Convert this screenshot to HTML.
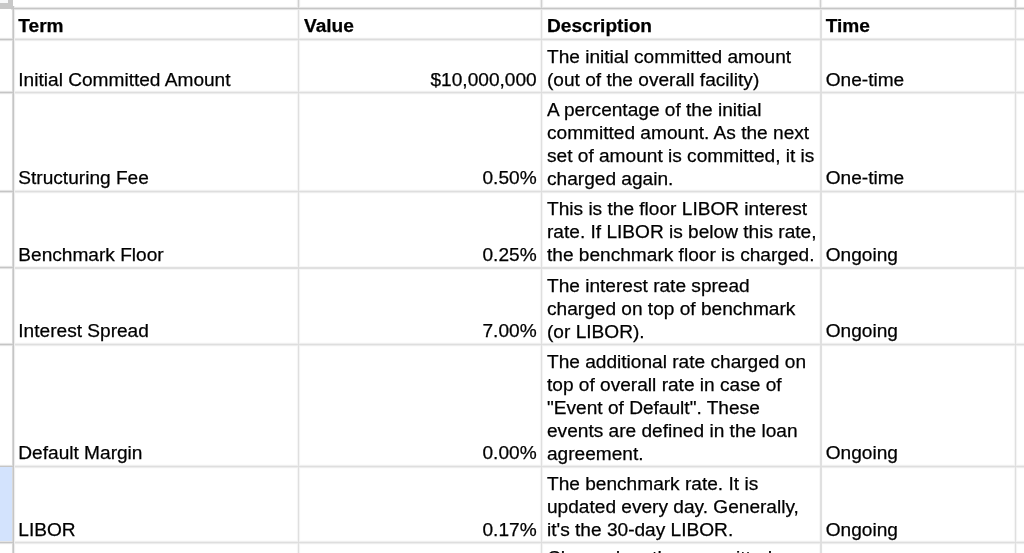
<!DOCTYPE html>
<html><head><meta charset="utf-8">
<style>
html,body{margin:0;padding:0;background:#fff;width:1024px;height:553px;overflow:hidden;position:relative}
svg{position:absolute;left:0;top:0} svg rect{mix-blend-mode:darken}
.t{position:absolute;font-family:"Liberation Sans",sans-serif;font-size:19.1px;line-height:22.9px;color:#000;white-space:nowrap;will-change:transform;-webkit-text-stroke:0.25px #000}
.r{text-align:right;transform:translateX(-0.5px)}
.b{font-weight:bold}
</style></head><body>
<svg width="1024" height="553" viewBox="0 0 1024 553" shape-rendering="crispEdges">
<rect width="1024" height="553" fill="#fff"/>
<rect x="15" y="37" width="1009" height="1" fill="#fcfcfc"/>
<rect x="15" y="38" width="1009" height="1" fill="#eaeaea"/>
<rect x="15" y="39" width="1009" height="1" fill="#dcdcdc"/>
<rect x="15" y="40" width="1009" height="1" fill="#eeeeee"/>
<rect x="15" y="41" width="1009" height="1" fill="#fdfdfd"/>
<rect x="15" y="90" width="1009" height="1" fill="#fcfcfc"/>
<rect x="15" y="91" width="1009" height="1" fill="#efefef"/>
<rect x="15" y="92" width="1009" height="1" fill="#dedede"/>
<rect x="15" y="93" width="1009" height="1" fill="#ededed"/>
<rect x="15" y="94" width="1009" height="1" fill="#fcfcfc"/>
<rect x="15" y="189" width="1009" height="1" fill="#fcfcfc"/>
<rect x="15" y="190" width="1009" height="1" fill="#efefef"/>
<rect x="15" y="191" width="1009" height="1" fill="#dedede"/>
<rect x="15" y="192" width="1009" height="1" fill="#ededed"/>
<rect x="15" y="193" width="1009" height="1" fill="#fcfcfc"/>
<rect x="15" y="265" width="1009" height="1" fill="#ffffff"/>
<rect x="15" y="266" width="1009" height="1" fill="#f7f7f7"/>
<rect x="15" y="267" width="1009" height="1" fill="#e0e0e0"/>
<rect x="15" y="268" width="1009" height="1" fill="#e0e0e0"/>
<rect x="15" y="269" width="1009" height="1" fill="#f7f7f7"/>
<rect x="15" y="342" width="1009" height="1" fill="#fcfcfc"/>
<rect x="15" y="343" width="1009" height="1" fill="#efefef"/>
<rect x="15" y="344" width="1009" height="1" fill="#dedede"/>
<rect x="15" y="345" width="1009" height="1" fill="#ededed"/>
<rect x="15" y="346" width="1009" height="1" fill="#fcfcfc"/>
<rect x="15" y="464" width="1009" height="1" fill="#fcfcfc"/>
<rect x="15" y="465" width="1009" height="1" fill="#efefef"/>
<rect x="15" y="466" width="1009" height="1" fill="#dedede"/>
<rect x="15" y="467" width="1009" height="1" fill="#ededed"/>
<rect x="15" y="468" width="1009" height="1" fill="#fcfcfc"/>
<rect x="15" y="540" width="1009" height="1" fill="#fcfcfc"/>
<rect x="15" y="541" width="1009" height="1" fill="#efefef"/>
<rect x="15" y="542" width="1009" height="1" fill="#dedede"/>
<rect x="15" y="543" width="1009" height="1" fill="#ededed"/>
<rect x="15" y="544" width="1009" height="1" fill="#fcfcfc"/>
<rect x="296" y="10" width="1" height="543" fill="#fefefe"/>
<rect x="297" y="10" width="1" height="543" fill="#f5f5f5"/>
<rect x="298" y="10" width="1" height="543" fill="#dfdfdf"/>
<rect x="299" y="10" width="1" height="543" fill="#f4f4f4"/>
<rect x="300" y="10" width="1" height="543" fill="#fefefe"/>
<rect x="539" y="10" width="1" height="543" fill="#fefefe"/>
<rect x="540" y="10" width="1" height="543" fill="#f5f5f5"/>
<rect x="541" y="10" width="1" height="543" fill="#dfdfdf"/>
<rect x="542" y="10" width="1" height="543" fill="#f4f4f4"/>
<rect x="543" y="10" width="1" height="543" fill="#fefefe"/>
<rect x="818" y="10" width="1" height="543" fill="#ffffff"/>
<rect x="819" y="10" width="1" height="543" fill="#f8f8f8"/>
<rect x="820" y="10" width="1" height="543" fill="#e0e0e0"/>
<rect x="821" y="10" width="1" height="543" fill="#e0e0e0"/>
<rect x="822" y="10" width="1" height="543" fill="#fcfcfc"/>
<rect x="1013" y="10" width="1" height="543" fill="#fefefe"/>
<rect x="1014" y="10" width="1" height="543" fill="#f5f5f5"/>
<rect x="1015" y="10" width="1" height="543" fill="#dfdfdf"/>
<rect x="1016" y="10" width="1" height="543" fill="#f4f4f4"/>
<rect x="1017" y="10" width="1" height="543" fill="#fefefe"/>
<rect x="0" y="37" width="13" height="1" fill="#fcfcfc"/>
<rect x="0" y="38" width="13" height="1" fill="#e4e4e4"/>
<rect x="0" y="39" width="13" height="1" fill="#c5c5c5"/>
<rect x="0" y="40" width="13" height="1" fill="#e4e4e4"/>
<rect x="0" y="41" width="13" height="1" fill="#fcfcfc"/>
<rect x="0" y="90" width="13" height="1" fill="#fcfcfc"/>
<rect x="0" y="91" width="13" height="1" fill="#e4e4e4"/>
<rect x="0" y="92" width="13" height="1" fill="#c5c5c5"/>
<rect x="0" y="93" width="13" height="1" fill="#e4e4e4"/>
<rect x="0" y="94" width="13" height="1" fill="#fcfcfc"/>
<rect x="0" y="189" width="13" height="1" fill="#fcfcfc"/>
<rect x="0" y="190" width="13" height="1" fill="#e4e4e4"/>
<rect x="0" y="191" width="13" height="1" fill="#c5c5c5"/>
<rect x="0" y="192" width="13" height="1" fill="#e4e4e4"/>
<rect x="0" y="193" width="13" height="1" fill="#fcfcfc"/>
<rect x="0" y="265" width="13" height="1" fill="#fcfcfc"/>
<rect x="0" y="266" width="13" height="1" fill="#e4e4e4"/>
<rect x="0" y="267" width="13" height="1" fill="#c5c5c5"/>
<rect x="0" y="268" width="13" height="1" fill="#e4e4e4"/>
<rect x="0" y="269" width="13" height="1" fill="#fcfcfc"/>
<rect x="0" y="342" width="13" height="1" fill="#fcfcfc"/>
<rect x="0" y="343" width="13" height="1" fill="#e4e4e4"/>
<rect x="0" y="344" width="13" height="1" fill="#c5c5c5"/>
<rect x="0" y="345" width="13" height="1" fill="#e4e4e4"/>
<rect x="0" y="346" width="13" height="1" fill="#fcfcfc"/>
<rect x="0" y="464" width="13" height="1" fill="#fcfcfc"/>
<rect x="0" y="465" width="13" height="1" fill="#e4e4e4"/>
<rect x="0" y="466" width="13" height="1" fill="#c5c5c5"/>
<rect x="0" y="467" width="13" height="1" fill="#e4e4e4"/>
<rect x="0" y="468" width="13" height="1" fill="#fcfcfc"/>
<rect x="0" y="540" width="13" height="1" fill="#fcfcfc"/>
<rect x="0" y="541" width="13" height="1" fill="#e4e4e4"/>
<rect x="0" y="542" width="13" height="1" fill="#c5c5c5"/>
<rect x="0" y="543" width="13" height="1" fill="#e4e4e4"/>
<rect x="0" y="544" width="13" height="1" fill="#fcfcfc"/>
<rect x="296" y="0" width="1" height="8" fill="#fcfcfc"/>
<rect x="297" y="0" width="1" height="8" fill="#ececec"/>
<rect x="298" y="0" width="1" height="8" fill="#d0d0d0"/>
<rect x="299" y="0" width="1" height="8" fill="#ececec"/>
<rect x="300" y="0" width="1" height="8" fill="#fcfcfc"/>
<rect x="539" y="0" width="1" height="8" fill="#fcfcfc"/>
<rect x="540" y="0" width="1" height="8" fill="#ececec"/>
<rect x="541" y="0" width="1" height="8" fill="#d0d0d0"/>
<rect x="542" y="0" width="1" height="8" fill="#ececec"/>
<rect x="543" y="0" width="1" height="8" fill="#fcfcfc"/>
<rect x="818" y="0" width="1" height="8" fill="#fcfcfc"/>
<rect x="819" y="0" width="1" height="8" fill="#ececec"/>
<rect x="820" y="0" width="1" height="8" fill="#d0d0d0"/>
<rect x="821" y="0" width="1" height="8" fill="#ececec"/>
<rect x="822" y="0" width="1" height="8" fill="#fcfcfc"/>
<rect x="1013" y="0" width="1" height="8" fill="#fcfcfc"/>
<rect x="1014" y="0" width="1" height="8" fill="#ececec"/>
<rect x="1015" y="0" width="1" height="8" fill="#d0d0d0"/>
<rect x="1016" y="0" width="1" height="8" fill="#ececec"/>
<rect x="1017" y="0" width="1" height="8" fill="#fcfcfc"/>
<rect x="11" y="6" width="1013" height="1" fill="#fcfcfc"/>
<rect x="11" y="7" width="1013" height="1" fill="#e4e4e4"/>
<rect x="11" y="8" width="1013" height="1" fill="#c5c5c5"/>
<rect x="11" y="9" width="1013" height="1" fill="#e4e4e4"/>
<rect x="11" y="10" width="1013" height="1" fill="#fcfcfc"/>
<rect x="11" y="6" width="1" height="547" fill="#fdfdfd"/>
<rect x="12" y="6" width="1" height="547" fill="#d7d7d7"/>
<rect x="13" y="6" width="1" height="547" fill="#c5c5c5"/>
<rect x="14" y="6" width="1" height="547" fill="#eeeeee"/>
<rect x="15" y="6" width="1" height="547" fill="#fdfdfd"/>
<rect x="0" y="0" width="13.4" height="9.3" fill="#c8c8c8"/>
<rect x="0" y="0" width="8" height="3" fill="#f8f9fa" style="mix-blend-mode:normal"/>
<rect x="0" y="467" width="12" height="74" fill="#d3e3fd" style="mix-blend-mode:normal"/>
</svg>
<div class="t b" style="top:15.30px;left:18.30px;transform:translate(0.3px,0px)">Term</div>
<div class="t b" style="top:15.30px;left:303.80px">Value</div>
<div class="t b" style="top:15.30px;left:546.80px">Description</div>
<div class="t b" style="top:15.30px;left:825.60px;transform:translate(-0.3px,0px)">Time</div>
<div class="t" style="top:68.90px;left:18.30px;transform:translate(0.3px,0px)">Initial Committed Amount</div>
<div class="t" style="top:68.90px;right:487.00px;text-align:right;transform:translate(-0.5px,0px)">$10,000,000</div>
<div class="t" style="top:46.00px;left:546.80px">The initial committed amount<br>(out of the overall facility)</div>
<div class="t" style="top:68.90px;left:825.60px;transform:translate(-0.3px,0px)">One-time</div>
<div class="t" style="top:167.40px;left:18.30px;transform:translate(0.3px,0px)">Structuring Fee</div>
<div class="t" style="top:167.40px;right:487.00px;text-align:right;transform:translate(-0.5px,0px)">0.50%</div>
<div class="t" style="top:98.70px;left:546.80px">A percentage of the initial<br>committed amount. As the next<br>set of amount is committed, it is<br>charged again.</div>
<div class="t" style="top:167.40px;left:825.60px;transform:translate(-0.3px,0px)">One-time</div>
<div class="t" style="top:243.90px;left:18.30px;transform:translate(0.3px,0px)">Benchmark Floor</div>
<div class="t" style="top:243.90px;right:487.00px;text-align:right;transform:translate(-0.5px,0px)">0.25%</div>
<div class="t" style="top:198.10px;left:546.80px">This is the floor LIBOR interest<br>rate. If LIBOR is below this rate,<br>the benchmark floor is charged.</div>
<div class="t" style="top:243.90px;left:825.60px;transform:translate(-0.3px,0px)">Ongoing</div>
<div class="t" style="top:320.30px;left:18.30px;transform:translate(0.3px,0px)">Interest Spread</div>
<div class="t" style="top:320.30px;right:487.00px;text-align:right;transform:translate(-0.5px,0px)">7.00%</div>
<div class="t" style="top:274.50px;left:546.80px">The interest rate spread<br>charged on top of benchmark<br>(or LIBOR).</div>
<div class="t" style="top:320.30px;left:825.60px;transform:translate(-0.3px,0px)">Ongoing</div>
<div class="t" style="top:442.30px;left:18.30px;transform:translate(0.3px,0px)">Default Margin</div>
<div class="t" style="top:442.30px;right:487.00px;text-align:right;transform:translate(-0.5px,0px)">0.00%</div>
<div class="t" style="top:350.70px;left:546.80px">The additional rate charged on<br>top of overall rate in case of<br>&quot;Event of Default&quot;. These<br>events are defined in the loan<br>agreement.</div>
<div class="t" style="top:442.30px;left:825.60px;transform:translate(-0.3px,0px)">Ongoing</div>
<div class="t" style="top:518.70px;left:18.30px;transform:translate(0.3px,0px)">LIBOR</div>
<div class="t" style="top:518.70px;right:487.00px;text-align:right;transform:translate(-0.5px,0px)">0.17%</div>
<div class="t" style="top:472.90px;left:546.80px">The benchmark rate. It is<br>updated every day. Generally,<br>it's the 30-day LIBOR.</div>
<div class="t" style="top:518.70px;left:825.60px;transform:translate(-0.3px,0px)">Ongoing</div>
<div class="t" style="top:547.00px;left:546.80px">Charged on the committed</div>
</body></html>
